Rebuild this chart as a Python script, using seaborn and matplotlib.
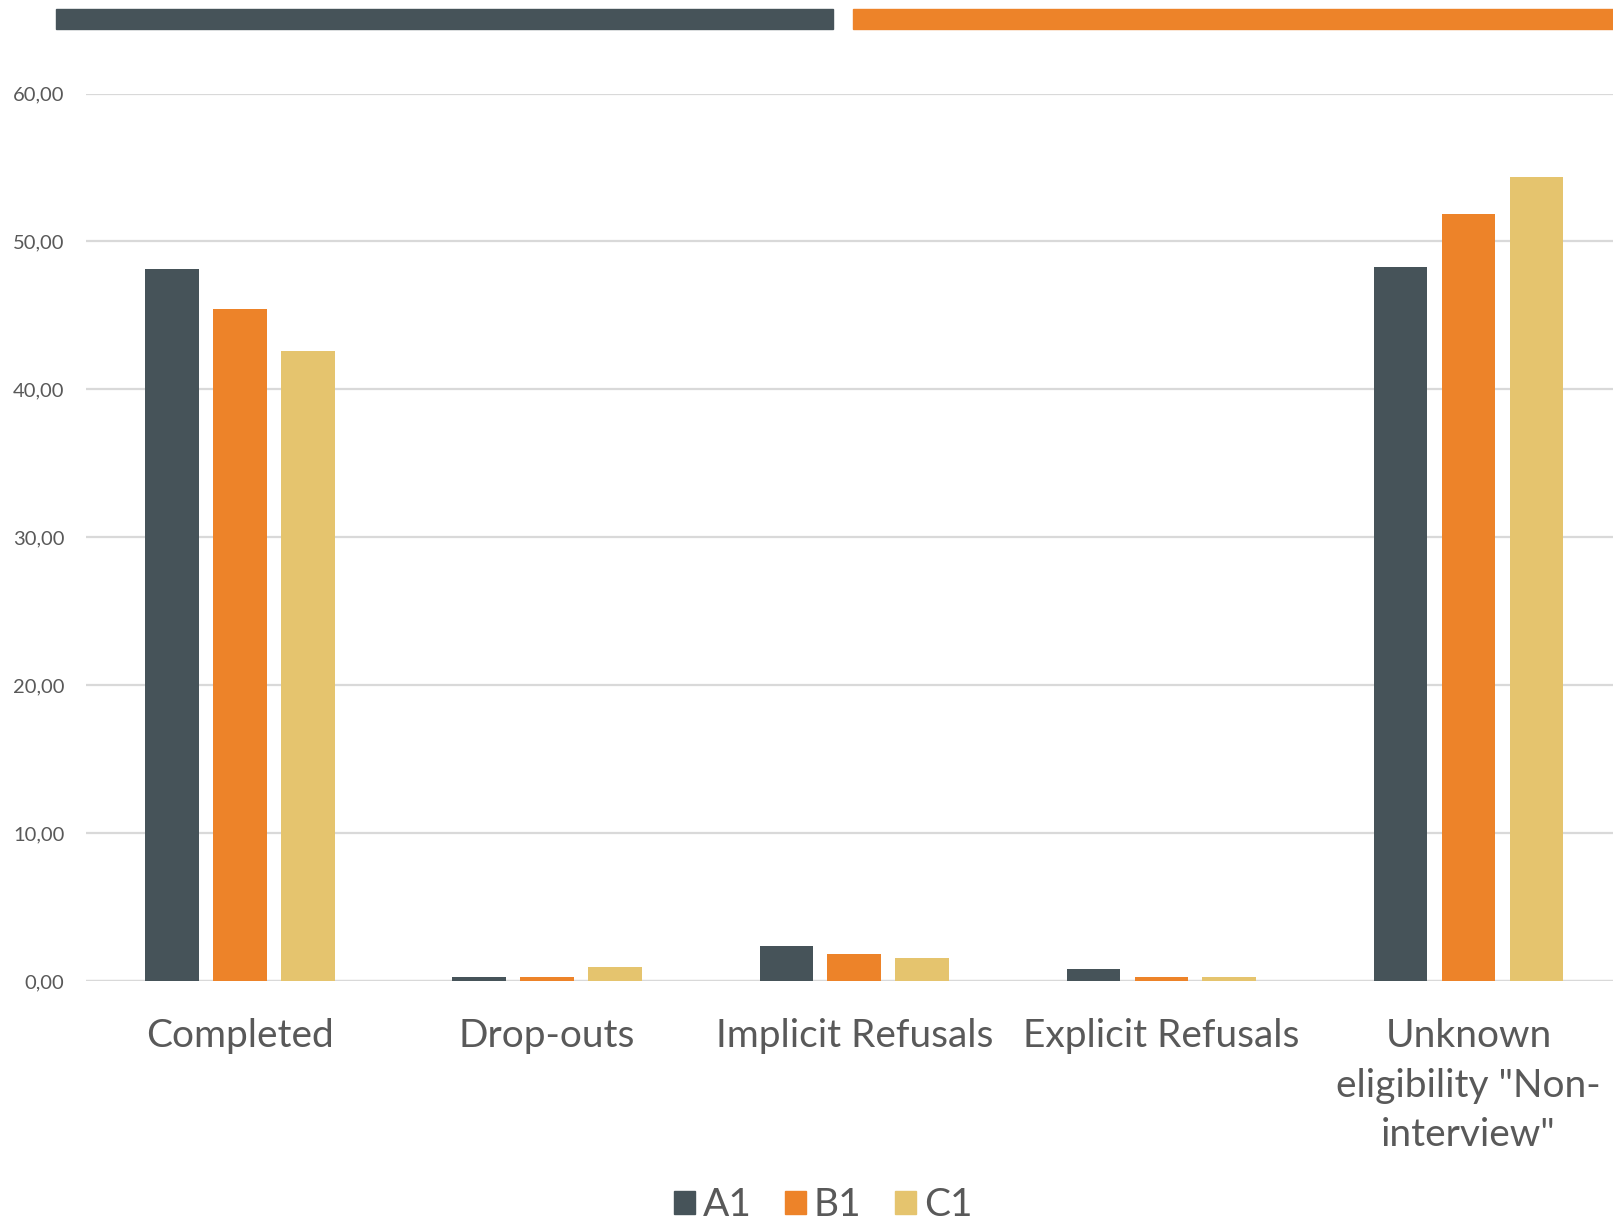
import matplotlib
matplotlib.use("Agg")
import matplotlib.pyplot as plt
import matplotlib.patches as mpatches
from matplotlib.ticker import FuncFormatter
import seaborn as sns
import pandas as pd

categories = ["Completed", "Drop-outs", "Implicit Refusals", "Explicit Refusals",
              "Unknown\neligibility \"Non-\ninterview\""]
series_names = ["A1", "B1", "C1"]
a1_values = [48.15, 0.27, 2.38, 0.82, 48.25]
b1_values = [45.45, 0.27, 1.79, 0.27, 51.87]
c1_values = [42.62, 0.96, 1.58, 0.27, 54.37]
y_ticks = [0, 10, 20, 30, 40, 50, 60]

colors = ["#465359", "#ED8329", "#E5C46E"]
text_gray = "#595959"

rows = []
for name, vals in zip(series_names, [a1_values, b1_values, c1_values]):
    for cat, v in zip(categories, vals):
        rows.append({"category": cat, "series": name, "value": v})
df = pd.DataFrame(rows)

sns.set_theme(style="white")
plt.rcParams["font.family"] = ["Lato", "DejaVu Sans"]

fig = plt.figure(figsize=(16.13, 12.23), dpi=100)
ax = fig.add_axes([0.0536, 0.1979, 0.952, 0.7256])

sns.barplot(data=df, x="category", y="value", hue="series", order=categories,
            hue_order=series_names, palette=colors, saturation=1,
            width=0.663, gap=0.21, linewidth=0, errorbar=None, legend=False, ax=ax)

ax.set_xlim(-0.5, 4.5)
ax.set_ylim(0, 60)
ax.set_yticks(y_ticks)
ax.yaxis.set_major_formatter(FuncFormatter(lambda v, _: f"{v:.2f}".replace(".", ",")))
ax.yaxis.grid(True, color="#D9D9D9", linewidth=1.6)
ax.set_axisbelow(True)
for s in ax.spines.values():
    s.set_visible(False)
ax.axhline(0, color="#D9D9D9", linewidth=1.6, zorder=0.5)
ax.set_xlabel("")
ax.set_ylabel("")
ax.tick_params(axis="y", length=0, pad=16, labelsize=14.5, labelcolor=text_gray)
ax.tick_params(axis="x", length=0, pad=27, labelsize=28, labelcolor=text_gray)
for lbl in ax.get_xticklabels():
    lbl.set_linespacing(1.45)
    lbl.set_verticalalignment("top")

# decorative header bands
fig.patches.append(mpatches.Rectangle((55.5 / 1613, 1 - 29 / 1223), (833 - 55.5) / 1613, 20 / 1223,
                                      transform=fig.transFigure, color=colors[0], zorder=3))
fig.patches.append(mpatches.Rectangle((853 / 1613, 1 - 29 / 1223), 1 - 853 / 1613, 20 / 1223,
                                      transform=fig.transFigure, color=colors[1], zorder=3))

handles = [mpatches.Patch(color=c, label=n) for c, n in zip(colors, series_names)]
fig.legend(handles=handles, loc="center", bbox_to_anchor=(823 / 1613, 1 - 1205 / 1223),
           ncol=3, frameon=False, fontsize=28, labelcolor=text_gray,
           handlelength=0.55, handleheight=0.55, handletextpad=0.2, columnspacing=0.85)

fig.savefig("out.png", dpi=100)
